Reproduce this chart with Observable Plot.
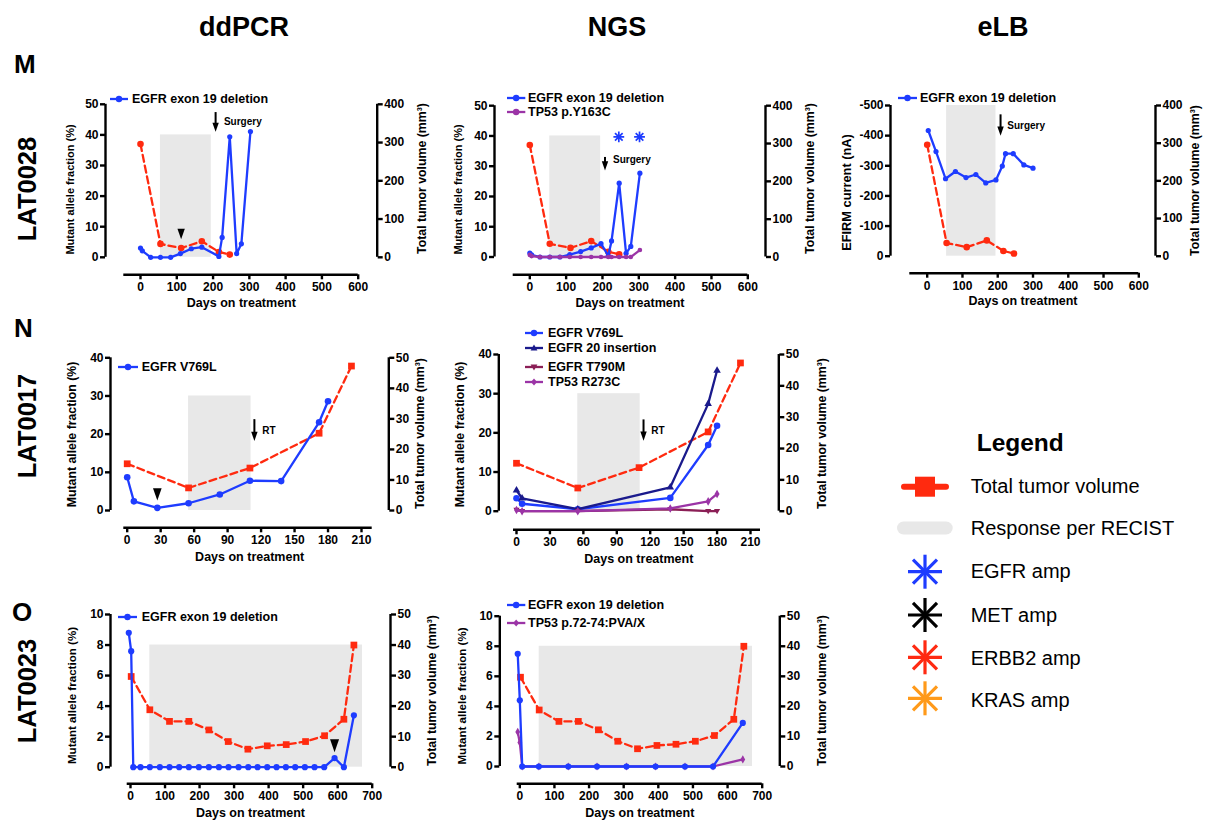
<!DOCTYPE html>
<html>
<head>
<meta charset="utf-8">
<script src="https://cdn.jsdelivr.net/npm/d3@7"></script>
<script src="https://cdn.jsdelivr.net/npm/@observablehq/plot@0.6"></script>
<style>
  html,body{margin:0;padding:0;background:#fff;}
  #fig{position:relative;width:1208px;height:825px;overflow:hidden;background:#fff;font-family:"Liberation Sans",Arial,Helvetica,sans-serif;color:#000;}
  .t{position:absolute;white-space:nowrap;line-height:1;}
  .b{font-weight:bold;}
  svg.sw{position:absolute;overflow:visible;}
</style>
</head>
<body>
<div id="fig"></div>
<script>
// ================= DATA =================
const methodTitles = ["ddPCR", "NGS", "eLB"];
const rowLetters = ["M", "N", "O"];
const patientIds = ["LAT0028", "LAT0017", "LAT0023"];
const xAxisTitle = "Days on treatment";
const mafTitle = "Mutant allele fraction (%)";
const efirmTitle = "EFIRM current (nA)";
const volTitle = "Total tumor volume (mm³)";

// tick labels
const daysTicks600 = [0, 100, 200, 300, 400, 500, 600];
const daysTicks210 = [0, 30, 60, 90, 120, 150, 180, 210];
const daysTicks700 = [0, 100, 200, 300, 400, 500, 600, 700];
const mafTicks50 = [0, 10, 20, 30, 40, 50];
const mafTicks40 = [0, 10, 20, 30, 40];
const mafTicks10 = [0, 2, 4, 6, 8, 10];
const efirmTicks = [0, -100, -200, -300, -400, -500];
const volTicks400 = [0, 100, 200, 300, 400];
const volTicks50 = [0, 10, 20, 30, 40, 50];

// LAT0028 (M)
const mDdpcrDays = [0, 5, 28, 55, 83, 110, 140, 169, 216, 225, 246, 265, 278, 303];
const mDdpcrEgfrEx19 = [3.0, 2.1, 0, 0, 0, 1.2, 2.8, 3.3, 0.3, 6.5, 39.4, 1.2, 4.4, 41.1];
const mNgsDays = [0, 5, 28, 55, 83, 110, 140, 169, 196, 216, 225, 246, 265, 278, 303];
const mNgsEgfrEx19 = [1.3, 0.7, 0, 0, 0, 0.8, 1.8, 3.0, 4.4, 0.4, 5.3, 24.4, 1.2, 3.5, 27.7];
const mNgsTp53Y163C = [0.7, 0.3, 0, 0, 0, 0, 0, 0, 0, 0, 0, 0, 0, 0, 2.3];
const mEgfrAmpDays = [245, 302];
const mEgfrAmpLevel = [39.7, 39.7];
const mElbDays = [3, 25, 52, 80, 110, 138, 166, 195, 213, 222, 244, 274, 300];
const mElbCurrent = [-417, -347, -257, -281, -261, -271, -243, -253, -299, -340, -340, -303, -292];
const mVolDays = [0, 55, 112, 169, 216, 246];
const mVolume = [296, 35, 24, 42, 14, 7];
const respLAT0028 = [55, 195];

// LAT0017 (N)
const nDdpcrDays = [0, 6, 27, 55, 83, 110, 138, 172, 180];
const nDdpcrV769L = [8.7, 2.4, 0.7, 1.9, 4.2, 7.8, 7.7, 23.1, 28.6];
const nNgsDays = [0, 5, 55, 138, 172, 180];
const nNgsV769L = [3.3, 1.9, 0.5, 3.4, 16.9, 21.8];
const nNgsEx20Ins = [5.3, 3.3, 0.5, 6.1, 27.4, 35.9];
const nNgsT790M = [0.3, 0, 0, 0.5, 0, 0];
const nNgsR273C = [0.3, 0, 0, 0.7, 2.5, 4.4];
const nVolDays = [0, 55, 110, 172, 201];
const nVolume = [15.3, 7.4, 13.9, 25.3, 47.3];
const respLAT0017 = [55, 111];

// LAT0023 (O)
const oDdpcrDays = [-5, 2, 8, 29, 56, 85, 113, 141, 169, 198, 227, 256, 284, 313, 341, 368, 396, 423, 450, 477, 505, 533, 561, 591, 618, 647];
const oDdpcrEgfrEx19 = [8.8, 7.6, 0, 0, 0, 0, 0, 0, 0, 0, 0, 0, 0, 0, 0, 0, 0, 0, 0, 0, 0, 0, 0, 0.6, 0, 3.4];
const oNgsDays = [-6, 0, 7, 55, 140, 223, 308, 392, 477, 558, 644];
const oNgsEgfrEx19 = [7.5, 4.4, 0, 0, 0, 0, 0, 0, 0, 0, 2.9];
const oNgsTp53 = [2.3, 1.6, 0, 0, 0, 0, 0, 0, 0, 0, 0.47];
const oVolDays = [2, 56, 113, 169, 227, 283, 340, 396, 451, 507, 562, 618, 647];
const oVolume = [29.7, 18.8, 15, 15, 12.2, 8.4, 5.9, 7, 7.4, 8.4, 10.3, 15.7, 40];
const respLAT0023 = [56, 672];

// events
const surgeryDay = 207;
const rtDay = 114;

// big legend
const legendTitle = "Legend";
const legendLabels = ["Total tumor volume", "Response per RECIST", "EGFR amp", "MET amp", "ERBB2 amp", "KRAS amp"];

// ================= STYLE =================
const BLUE = "#1e3cff", RED = "#ff2a0f", NAVY = "#1a1a8c", MAROON = "#8b1f56", PURPLE = "#9b34a6", GRAY = "#e8e8e8";
const ampColors = [BLUE, "#000000", "#ff2a12", "#ff9a1a"];
const AXW = 2.4, LW = 2.3;

const arrowTip = { draw(ctx, size) { const r = Math.sqrt(size / Math.PI); ctx.moveTo(-0.8 * r, -2.3 * r); ctx.lineTo(0.8 * r, -2.3 * r); ctx.lineTo(0, 0); ctx.closePath(); } };
const asterisk8 = { draw(ctx, size) { const r = Math.sqrt(size / Math.PI); for (let k = 0; k < 4; k++) { const a = k * Math.PI / 4; ctx.moveTo(r * Math.cos(a), r * Math.sin(a)); ctx.lineTo(-r * Math.cos(a), -r * Math.sin(a)); } } };
const triDown = { draw(ctx, size) { const r = Math.sqrt(size / Math.PI); ctx.moveTo(-1.1 * r, -0.8 * r); ctx.lineTo(1.1 * r, -0.8 * r); ctx.lineTo(0, 1.1 * r); ctx.closePath(); } };

const fig = document.getElementById("fig");

function addText(str, o) {
  const el = document.createElement("div");
  el.className = "t" + (o.bold === false ? "" : " b");
  el.textContent = str;
  el.style.fontSize = o.size + "px";
  if (o.rotate) {
    el.style.left = o.x + "px"; el.style.top = o.cy + "px";
    el.style.transform = "translate(-50%,-50%) rotate(-90deg)";
  } else {
    const top = o.baseline != null ? o.baseline - 0.8465 * o.size : o.cy - 0.4885 * o.size;
    el.style.top = top + "px";
    el.style.left = o.x + "px";
    if (o.anchor === "middle") el.style.transform = "translateX(-50%)";
  }
  fig.appendChild(el);
}

function markerSvg(m, cx, cy, color) {
  if (m === "circle") return `<circle cx="${cx}" cy="${cy}" r="3.2" fill="${color}"/>`;
  if (m === "triangle") return `<path d="M${cx},${cy - 3.6}L${cx + 3.4},${cy + 2.4}L${cx - 3.4},${cy + 2.4}Z" fill="${color}"/>`;
  if (m === "triangleDown") return `<path d="M${cx},${cy + 3.6}L${cx + 3.4},${cy - 2.4}L${cx - 3.4},${cy - 2.4}Z" fill="${color}"/>`;
  if (m === "diamond") return `<path d="M${cx},${cy - 3.6}L${cx + 3},${cy}L${cx},${cy + 3.6}L${cx - 3},${cy}Z" fill="${color}"/>`;
  return "";
}
function addSwatch(x1, x2, cy, color, marker) {
  const w = x2 - x1;
  fig.insertAdjacentHTML("beforeend",
    `<svg class="sw" style="left:${x1}px;top:${cy - 8}px" width="${w}" height="16"><line x1="0" y1="8" x2="${w}" y2="8" stroke="${color}" stroke-width="${LW}"/>${markerSvg(marker, w / 2, 8, color)}</svg>`);
}

function plotSymbol(s) {
  if (s === "triangleDown") return triDown;
  return s;
}

// ================= PANELS =================
const panels = [
  { // M ddPCR
    box: [55, 88, 440, 322], yAxisX: 105, rightX: 376.7, yTopPx: 103.8, y0Px: 256.8, yTop: 50, xLineY: 274.3,
    x0Px: 140, xMaxPx: 357.7, xMax: 600, xStartPx: 123.3,
    xTicks: daysTicks600, yTicks: mafTicks50, rTicks: volTicks400, rMax: 400,
    ylab: mafTitle, ylabX: 70, ylabY: 189, ylabSize: 11, rlabX: 421.7, rlabY: 178, rlabSize: 12.3, xlabDy: 32,
    resp: respLAT0028, respTop: 40,
    vol: { days: mVolDays, values: mVolume, symbol: "circle", r: 3.3 },
    series: [{ name: "EGFR exon 19 deletion", days: mDdpcrDays, values: mDdpcrEgfrEx19, color: BLUE, symbol: "circle", r: 2.6 }],
    arrows: [{ x: surgeryDay, y1: 47.3, y2: 41.0, r: 4 }],
    triangles: [{ x: 112, y: 5.9, r: 4.6 }],
    notes: [{ x: 230, y: 44.3, t: "Surgery" }],
    legend: { x1: 110, x2: 128, tx: 132, cys: [99] }
  },
  { // M NGS
    box: [440, 88, 835, 322], yAxisX: 494, rightX: 765, yTopPx: 105.2, y0Px: 256.5, yTop: 50, xLineY: 274.3,
    x0Px: 529.3, xMaxPx: 747.3, xMax: 600, xStartPx: 512.7,
    xTicks: daysTicks600, yTicks: mafTicks50, rTicks: volTicks400, rMax: 400,
    ylab: mafTitle, ylabX: 458.3, ylabY: 189, ylabSize: 11, rlabX: 810, rlabY: 178, rlabSize: 12.3, xlabDy: 32,
    resp: respLAT0028, respTop: 40,
    vol: { days: mVolDays, values: mVolume, symbol: "circle", r: 3.3 },
    series: [
      { name: "EGFR exon 19 deletion", days: mNgsDays, values: mNgsEgfrEx19, color: BLUE, symbol: "circle", r: 2.6 },
      { name: "TP53 p.Y163C", days: mNgsDays, values: mNgsTp53Y163C, color: PURPLE, symbol: "circle", r: 2.3 }
    ],
    amps: { days: mEgfrAmpDays, values: mEgfrAmpLevel, color: BLUE },
    arrows: [{ x: surgeryDay, y1: 32.9, y2: 28.6, r: 4 }],
    triangles: [],
    notes: [{ x: 229, y: 32, t: "Surgery" }],
    legend: { x1: 506.7, x2: 525, tx: 528, cys: [98.3, 112.3] }
  },
  { // M eLB
    box: [830, 88, 1208, 322], yAxisX: 890, rightX: 1155, yTopPx: 105, y0Px: 255.7, yTop: -500, xLineY: 272.7,
    x0Px: 926.7, xMaxPx: 1138.3, xMax: 600, xStartPx: 909.3,
    xTicks: daysTicks600, yTicks: efirmTicks, rTicks: volTicks400, rMax: 400,
    ylab: efirmTitle, ylabX: 846.7, ylabY: 192, ylabSize: 12.8, rlabX: 1195, rlabY: 180, rlabSize: 12.3, xlabDy: 32,
    resp: respLAT0028, respTop: -500,
    vol: { days: mVolDays, values: mVolume, symbol: "circle", r: 3.3 },
    series: [{ name: "EGFR exon 19 deletion", days: mElbDays, values: mElbCurrent, color: BLUE, symbol: "circle", r: 2.6 }],
    arrows: [{ x: 208, y1: -469, y2: -400, r: 4 }],
    triangles: [],
    notes: [{ x: 227, y: -434, t: "Surgery" }],
    legend: { x1: 898, x2: 917, tx: 920, cys: [98.3] }
  },
  { // N ddPCR
    box: [55, 340, 440, 578], yAxisX: 110, rightX: 388.3, yTopPx: 357.3, y0Px: 510, yTop: 40, xLineY: 527.3,
    x0Px: 126.7, xMaxPx: 361, xMax: 210, xStartPx: 123.3, xEndPx: 371.7,
    xTicks: daysTicks210, yTicks: mafTicks40, rTicks: volTicks50, rMax: 50,
    ylab: mafTitle, ylabX: 71.7, ylabY: 434, ylabSize: 12.3, rlabX: 420, rlabY: 433, rlabSize: 12.3, xlabDy: 33,
    resp: respLAT0017, respTop: 30,
    vol: { days: nVolDays, values: nVolume, symbol: "square", r: 3.8 },
    series: [{ name: "EGFR V769L", days: nDdpcrDays, values: nDdpcrV769L, color: BLUE, symbol: "circle", r: 3.3 }],
    arrows: [{ x: rtDay, y1: 23.8, y2: 18.2, r: 4 }],
    triangles: [{ x: 27, y: 2.6, r: 5.4 }],
    notes: [{ x: 121, y: 20.8, t: "RT" }],
    legend: { x1: 118, x2: 138, tx: 141.7, cys: [367.3] }
  },
  { // N NGS
    box: [440, 320, 845, 578], yAxisX: 498.3, rightX: 778.3, yTopPx: 354, y0Px: 510.7, yTop: 40, xLineY: 529.3,
    x0Px: 516, xMaxPx: 750, xMax: 210, xStartPx: 513, xEndPx: 760,
    xTicks: daysTicks210, yTicks: mafTicks40, rTicks: volTicks50, rMax: 50,
    ylab: mafTitle, ylabX: 460, ylabY: 434, ylabSize: 12.3, rlabX: 822, rlabY: 433, rlabSize: 12.3, xlabDy: 33,
    resp: respLAT0017, respTop: 30,
    vol: { days: nVolDays, values: nVolume, symbol: "square", r: 3.8 },
    series: [
      { name: "EGFR V769L", days: nNgsDays, values: nNgsV769L, color: BLUE, symbol: "circle", r: 3.3 },
      { name: "EGFR 20 insertion", days: nNgsDays, values: nNgsEx20Ins, color: NAVY, symbol: "triangle", r: 2.8 },
      { name: "EGFR T790M", days: nNgsDays, values: nNgsT790M, color: MAROON, symbol: "triangleDown", r: 2.8 },
      { name: "TP53 R273C", days: nNgsDays, values: nNgsR273C, color: PURPLE, symbol: "diamond", r: 2.6 }
    ],
    arrows: [{ x: rtDay, y1: 23.3, y2: 18.0, r: 4 }],
    triangles: [],
    notes: [{ x: 121, y: 20.6, t: "RT" }],
    legend: { x1: 525, x2: 543, tx: 548, cys: [332.7, 347.7, 366.7, 381.7] }
  },
  { // O ddPCR
    box: [55, 598, 440, 825], yAxisX: 110, rightX: 390, yTopPx: 614, y0Px: 766.7, yTop: 10, xLineY: 783.3,
    x0Px: 130, xMaxPx: 371.7, xMax: 700, xStartPx: 126.7,
    xTicks: daysTicks700, yTicks: mafTicks10, rTicks: volTicks50, rMax: 50,
    ylab: mafTitle, ylabX: 71.7, ylabY: 695, ylabSize: 11.6, rlabX: 432, rlabY: 690, rlabSize: 12.3, xlabDy: 33,
    resp: respLAT0023, respTop: 8,
    vol: { days: oVolDays, values: oVolume, symbol: "square", r: 3.8 },
    series: [{ name: "EGFR exon 19 deletion", days: oDdpcrDays, values: oDdpcrEgfrEx19, color: BLUE, symbol: "circle", r: 3.1 }],
    arrows: [],
    triangles: [{ x: 591, y: 0.98, r: 5.6 }],
    notes: [],
    legend: { x1: 118, x2: 137, tx: 141.7, cys: [616.7] }
  },
  { // O NGS
    box: [440, 598, 845, 825], yAxisX: 499.3, rightX: 779.3, yTopPx: 615.7, y0Px: 766, yTop: 10, xLineY: 783.3,
    x0Px: 519.3, xMaxPx: 761.7, xMax: 700, xStartPx: 516.7,
    xTicks: daysTicks700, yTicks: mafTicks10, rTicks: volTicks50, rMax: 50,
    ylab: mafTitle, ylabX: 461.7, ylabY: 695.5, ylabSize: 11.6, rlabX: 822, rlabY: 690, rlabSize: 12.3, xlabDy: 33,
    resp: respLAT0023, respTop: 8,
    vol: { days: oVolDays, values: oVolume, symbol: "square", r: 3.8 },
    series: [
      { name: "TP53 p.72-74:PVA/X", days: oNgsDays, values: oNgsTp53, color: PURPLE, symbol: "diamond", r: 2.5, legendIndex: 1 },
      { name: "EGFR exon 19 deletion", days: oNgsDays, values: oNgsEgfrEx19, color: BLUE, symbol: "circle", r: 3.1, legendIndex: 0 }
    ],
    arrows: [],
    triangles: [],
    notes: [],
    legend: { x1: 506.7, x2: 525, tx: 528, cys: [605, 623.3] }
  }
];

function buildPanel(p) {
  const [L, T, R, B] = p.box;
  const W = R - L, H = B - T;
  const mL = p.yAxisX - L, mR = R - p.rightX, mT = p.yTopPx - T, mB = B - p.xLineY;
  const kx = (p.xMaxPx - p.x0Px) / p.xMax;
  const xmin = (p.yAxisX - p.x0Px) / kx, xmax = (p.rightX - p.x0Px) / kx;
  const xStart = (p.xStartPx - p.x0Px) / kx;
  const xEnd = ((p.xEndPx ?? p.xMaxPx) - p.x0Px) / kx;
  const ky = (p.y0Px - p.yTopPx) / p.yTop;
  const ymin = (p.y0Px - p.xLineY) / ky;
  const ratio = p.yTop / p.rMax;

  const marks = [];
  marks.push(Plot.rect([p.resp], { x1: d => d[0], x2: d => d[1], y1: () => 0, y2: () => p.respTop, fill: GRAY }));

  const vol = p.vol.days.map((d, i) => ({ x: d, y: p.vol.values[i] * ratio }));
  marks.push(Plot.line(vol, { x: "x", y: "y", stroke: RED, strokeWidth: LW, strokeDasharray: "7,4" }));
  marks.push(Plot.dot(vol, { x: "x", y: "y", fill: RED, stroke: "none", r: p.vol.r, symbol: p.vol.symbol }));

  for (const s of p.series) {
    const rows = s.days.map((d, i) => ({ x: d, y: s.values[i] }));
    marks.push(Plot.line(rows, { x: "x", y: "y", stroke: s.color, strokeWidth: LW }));
    marks.push(Plot.dot(rows, { x: "x", y: "y", fill: s.color, stroke: "none", r: s.r, symbol: plotSymbol(s.symbol) }));
  }

  if (p.amps) {
    const rows = p.amps.days.map((d, i) => ({ x: d, y: p.amps.values[i] }));
    marks.push(Plot.dot(rows, { x: "x", y: "y", symbol: asterisk8, r: 5.4, stroke: p.amps.color, strokeWidth: 1.7, fill: "none" }));
  }

  for (const a of p.arrows) {
    const yEnd = a.y2 + (1.2 * a.r) / ky;
    marks.push(Plot.ruleX([a], { x: "x", y1: "y1", y2: () => yEnd, stroke: "#000", strokeWidth: 2 }));
    marks.push(Plot.dot([a], { x: "x", y: "y2", symbol: arrowTip, r: a.r, fill: "#000", stroke: "none" }));
  }
  for (const t of p.triangles) {
    marks.push(Plot.dot([t], { x: "x", y: "y", symbol: arrowTip, r: t.r, fill: "#000", stroke: "none" }));
  }
  if (p.notes.length) {
    marks.push(Plot.text(p.notes, { x: "x", y: "y", text: "t", textAnchor: "start", fontSize: 10 }));
  }

  // axes lines (GraphPad style, offset x axis)
  marks.push(Plot.ruleY([ymin], { x1: () => xStart, x2: () => xEnd, stroke: "#000", strokeWidth: AXW }));
  marks.push(Plot.ruleX([xmin, xmax], { y1: () => 0, y2: () => p.yTop, stroke: "#000", strokeWidth: AXW }));
  marks.push(Plot.axisX({ ticks: p.xTicks, tickSize: 5, tickPadding: 3, strokeWidth: AXW, tickFormat: d => String(d), label: null }));
  marks.push(Plot.axisY({ ticks: p.yTicks, tickSize: 5, tickPadding: 2, strokeWidth: AXW, tickFormat: d => String(d), label: null }));
  marks.push(Plot.axisY({ anchor: "right", ticks: p.rTicks.map(t => t * ratio), tickSize: 5, tickPadding: 2, strokeWidth: AXW, tickFormat: d => String(Math.round(d / ratio)), label: null }));

  // axis titles
  marks.push(Plot.text([xAxisTitle], { text: d => d, frameAnchor: "bottom", dy: p.xlabDy, fontSize: 12.5 }));
  marks.push(Plot.text([p.ylab], { text: d => d, frameAnchor: "left", rotate: -90, textAnchor: "middle", dx: p.ylabX - p.yAxisX, dy: p.ylabY - (p.yTopPx + p.xLineY) / 2, fontSize: p.ylabSize }));
  marks.push(Plot.text([volTitle], { text: d => d, frameAnchor: "right", rotate: -90, textAnchor: "middle", dx: p.rlabX - p.rightX, dy: p.rlabY - (p.yTopPx + p.xLineY) / 2, fontSize: p.rlabSize }));

  const svg = Plot.plot({
    width: W, height: H,
    marginLeft: mL, marginRight: mR, marginTop: mT, marginBottom: mB,
    x: { domain: [xmin, xmax], label: null },
    y: { domain: [ymin, p.yTop], label: null },
    style: { fontFamily: "'Liberation Sans', Arial, Helvetica, sans-serif", fontSize: "12px", fontWeight: "bold", background: "transparent", overflow: "visible", color: "#000" },
    marks
  });
  svg.style.position = "absolute";
  svg.style.left = L + "px";
  svg.style.top = T + "px";
  svg.style.maxWidth = "none";
  fig.appendChild(svg);

  // in-panel legend
  const hasOrder = p.series.some(s => s.legendIndex != null);
  const legendSeries = hasOrder ? p.series.slice().sort((a, b) => a.legendIndex - b.legendIndex) : p.series;
  legendSeries.forEach((s, i) => {
    const cy = p.legend.cys[i];
    addSwatch(p.legend.x1, p.legend.x2, cy, s.color, s.symbol);
    addText(s.name, { x: p.legend.tx, cy: cy, size: 12.5 });
  });
}

panels.forEach(buildPanel);

// headers
[[244, 36.7], [617, 36.7], [1003, 36.7]].forEach(([x, b], i) => addText(methodTitles[i], { x, baseline: b, size: 27, anchor: "middle" }));
[[14, 73], [14, 337], [12, 621]].forEach(([x, b], i) => addText(rowLetters[i], { x, baseline: b, size: 26 }));
[[28, 189], [28, 426], [28, 691]].forEach(([x, cy], i) => addText(patientIds[i], { x, cy, size: 25.5, rotate: true }));

// big legend
addText(legendTitle, { x: 976.7, baseline: 451.7, size: 24.5 });
const legBase = [493.3, 535, 578.3, 621.7, 665, 706.7];
legendLabels.forEach((lab, i) => addText(lab, { x: 970.7, baseline: legBase[i], size: 20, bold: false }));
let lg = `<svg class="sw" style="left:880px;top:460px" width="90" height="260">`;
lg += `<line x1="24" y1="26.7" x2="66" y2="26.7" stroke="${RED}" stroke-width="6" stroke-linecap="round"/>`;
lg += `<rect x="35" y="16.7" width="20" height="20" fill="${RED}"/>`;
lg += `<rect x="17" y="61.5" width="55.7" height="13" rx="6.5" fill="${GRAY}"/>`;
const astY = [111.7, 155, 197.3, 238.3];
astY.forEach((cy, i) => {
  for (let k = 0; k < 4; k++) {
    const a = k * Math.PI / 4, r = 17;
    lg += `<line x1="${45 + r * Math.cos(a)}" y1="${cy + r * Math.sin(a)}" x2="${45 - r * Math.cos(a)}" y2="${cy - r * Math.sin(a)}" stroke="${ampColors[i]}" stroke-width="3.2"/>`;
  }
});
lg += `</svg>`;
fig.insertAdjacentHTML("beforeend", lg);
</script>
</body>
</html>
